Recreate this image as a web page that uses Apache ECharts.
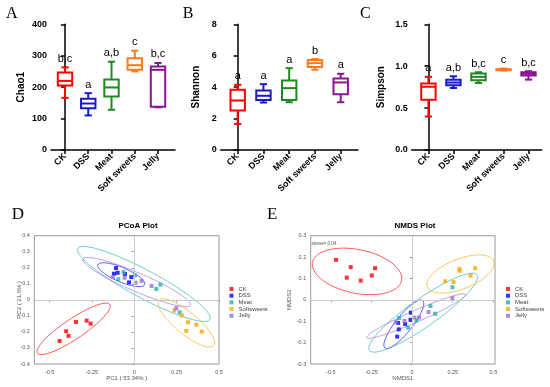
<!DOCTYPE html>
<html>
<head>
<meta charset="utf-8">
<script src="https://cdn.jsdelivr.net/npm/echarts@6/dist/echarts.min.js"></script>
<style>html,body{margin:0;padding:0;background:#fff;}#chart{width:550px;height:387px;}</style>
</head>
<body>
<div id="chart"></div>
<script>
// ---------- data ----------
const categories = ['CK', 'DSS', 'Meat', 'Soft sweets', 'Jelly'];
const groupNames = ['CK', 'DSS', 'Meat', 'Softsweets', 'Jelly'];

// box stats: [min, Q1, median, Q3, max]
const chao1Stats = [[166, 205, 220, 247, 263], [110, 133, 148, 163, 181], [128, 170, 199, 224, 281], [250, 255, 270, 292, 316], [136, 138, 255, 266, 277]];
const shannonStats = [[1.66, 2.51, 3.15, 3.83, 4.15], [3.02, 3.19, 3.45, 3.79, 4.19], [3.04, 3.19, 3.94, 4.43, 5.21], [5.11, 5.28, 5.53, 5.72, 5.79], [3.04, 3.55, 4.30, 4.55, 4.85]];
const simpsonStats = [[0.40, 0.60, 0.755, 0.793, 0.873], [0.74, 0.773, 0.805, 0.837, 0.88], [0.80, 0.833, 0.873, 0.912, 0.928], [0.948, 0.952, 0.96, 0.964, 0.972], [0.84, 0.888, 0.908, 0.928, 0.94]];
const chao1Letters = ['b,c', 'a', 'a,b', 'c', 'b,c'];
const shannonLetters = ['a', 'a', 'a', 'b', 'a'];
const simpsonLetters = ['a', 'a,b', 'b,c', 'c', 'b,c'];

// PCoA points
const pcoaCK = [[-0.441, -0.256], [-0.402, -0.196], [-0.388, -0.225], [-0.344, -0.138], [-0.281, -0.130], [-0.258, -0.148]];
const pcoaDSS = [[-0.108, 0.198], [-0.120, 0.163], [-0.098, 0.169], [-0.055, 0.161], [-0.018, 0.142], [-0.031, 0.109]];
const pcoaMeat = [[-0.063, 0.173], [-0.094, 0.128], [0.004, 0.153], [0.154, 0.095], [0.130, 0.068], [0.268, -0.078]];
const pcoaSoft = [[0.236, -0.066], [0.280, -0.097], [0.317, -0.140], [0.366, -0.155], [0.307, -0.194], [0.398, -0.198]];
const pcoaJelly = [[-0.126, 0.142], [-0.057, 0.138], [0.008, 0.107], [0.043, 0.118], [0.102, 0.087], [0.248, -0.052]];
// ellipses: [centerX, centerY, majorEndX, majorEndY, minorEndX, minorEndY]
const pcoaEllipses = [[-0.358, -0.181, -0.144, -0.029, -0.325, -0.233], [-0.077, 0.157, 0.061, 0.095, -0.060, 0.198], [0.057, 0.099, 0.447, -0.122, 0.096, 0.175], [0.307, -0.144, 0.469, -0.285, 0.349, -0.092], [0.014, 0.111, 0.331, -0.033, 0.036, 0.164]];

// NMDS points
const nmdsCK = [[-0.468, 0.187], [-0.378, 0.153], [-0.402, 0.104], [-0.316, 0.090], [-0.248, 0.114], [-0.228, 0.148]];
const nmdsDSS = [[-0.008, -0.060], [-0.010, -0.093], [-0.043, -0.113], [-0.086, -0.108], [-0.082, -0.138], [-0.092, -0.172]];
const nmdsMeat = [[-0.080, -0.085], [-0.025, -0.130], [0.027, -0.096], [0.113, -0.029], [0.142, -0.065], [0.248, 0.059]];
const nmdsSoft = [[0.203, 0.087], [0.255, 0.083], [0.292, 0.136], [0.292, 0.145], [0.359, 0.114], [0.388, 0.148]];
const nmdsJelly = [[-0.101, -0.105], [-0.047, -0.099], [0.014, -0.083], [0.043, -0.083], [0.101, -0.057], [0.248, 0.008]];
const nmdsEllipses = [[-0.339, 0.133, -0.065, 0.090, -0.312, 0.233], [-0.051, -0.114, 0.065, -0.003, -0.011, -0.138], [0.068, -0.060, 0.399, 0.117, 0.118, -0.113], [0.298, 0.121, 0.502, 0.182, 0.332, 0.056], [0.025, -0.076, 0.329, 0.025, 0.039, -0.101]];

const ordXTicks = [-0.5, -0.25, 0, 0.25, 0.5];
const catTicks = [0, 1, 2, 3, 4];

// ---------- styles ----------
const boxColors = ['#ff0000', '#1a1acc', '#1f8a1f', '#ff7a1a', '#8c1496'];
const groupColors = ['#ff0000', '#0000ff', '#20b2aa', '#ffa500', '#9370db'];
const SANS = 'Liberation Sans, Arial, sans-serif';
const SERIF = 'Liberation Serif, Times New Roman, serif';

function boxRender(letters) {
  return function (params, api) {
    const i = api.value(0);
    const lo = api.coord([i, api.value(1)]);
    const q1 = api.coord([i, api.value(2)]);
    const md = api.coord([i, api.value(3)]);
    const q3 = api.coord([i, api.value(4)]);
    const hi = api.coord([i, api.value(5)]);
    const x = lo[0], hw = 7.2, cw = 3.6;
    const c = boxColors[params.dataIndex];
    const ls = { stroke: c, lineWidth: 2 };
    return {
      type: 'group',
      children: [
        { type: 'line', shape: { x1: x, y1: lo[1], x2: x, y2: q1[1] }, style: ls },
        { type: 'line', shape: { x1: x, y1: q3[1], x2: x, y2: hi[1] }, style: ls },
        { type: 'line', shape: { x1: x - cw, y1: lo[1], x2: x + cw, y2: lo[1] }, style: ls },
        { type: 'line', shape: { x1: x - cw, y1: hi[1], x2: x + cw, y2: hi[1] }, style: ls },
        { type: 'rect', shape: { x: x - hw, y: q3[1], width: 2 * hw, height: q1[1] - q3[1] }, style: { stroke: c, lineWidth: 2, fill: '#fff' } },
        { type: 'line', shape: { x1: x - hw, y1: md[1], x2: x + hw, y2: md[1] }, style: ls },
        { type: 'text', style: { text: letters[params.dataIndex], x: x, y: hi[1] - 3, align: 'center', verticalAlign: 'bottom', fontSize: 11, fontFamily: SANS, fill: '#000' } }
      ]
    };
  };
}

function ellipseRender(params, api) {
  const cx = api.value(0), cy = api.value(1);
  const ux = api.value(2) - cx, uy = api.value(3) - cy;
  const vx = api.value(4) - cx, vy = api.value(5) - cy;
  const pts = [];
  for (let k = 0; k <= 96; k++) {
    const t = k / 96 * 2 * Math.PI;
    pts.push(api.coord([cx + ux * Math.cos(t) + vx * Math.sin(t), cy + uy * Math.cos(t) + vy * Math.sin(t)]));
  }
  return { type: 'polyline', shape: { points: pts }, style: { stroke: groupColors[params.dataIndex], lineWidth: 1, opacity: 0.65, fill: null } };
}

function catXAxis(gi, min, max) {
  return {
    type: 'value', gridIndex: gi, min: min, max: max,
    axisLine: { show: true, lineStyle: { color: '#000', width: 1.5 } },
    axisTick: { show: true, customValues: catTicks, length: 4, lineStyle: { color: '#000', width: 1.5 } },
    axisLabel: { customValues: catTicks, formatter: v => categories[Math.round(v)], rotate: 45, fontSize: 9, fontWeight: 'bold', fontFamily: SANS, color: '#000', margin: 5 },
    splitLine: { show: false }
  };
}
function boxYAxis(gi, name, min, max, interval, gap, fmt) {
  return {
    type: 'value', gridIndex: gi, min: min, max: max, interval: interval,
    name: name, nameLocation: 'middle', nameGap: gap,
    nameTextStyle: { fontSize: 10, fontWeight: 'bold', fontFamily: SANS, color: '#000' },
    axisLine: { show: true, lineStyle: { color: '#000', width: 1.5 } },
    axisTick: { show: true, length: 4, lineStyle: { color: '#000', width: 1.5 } },
    axisLabel: { fontSize: 9, fontWeight: 'bold', fontFamily: SANS, color: '#000', margin: 4, formatter: fmt },
    splitLine: { show: false }
  };
}
function ordXAxis(gi, min, max, name) {
  return {
    type: 'value', gridIndex: gi, min: min, max: max,
    name: name, nameLocation: 'middle', nameGap: 11, nameMoveOverlap: false,
    nameTextStyle: { fontSize: 6, fontFamily: SANS, color: '#555' },
    axisLine: { show: true, lineStyle: { color: '#999', width: 1 } },
    axisTick: { show: true, customValues: ordXTicks, length: 2.5, lineStyle: { color: '#999' } },
    axisLabel: { customValues: ordXTicks, fontSize: 5.5, fontFamily: SANS, color: '#555', margin: 5, formatter: v => String(v) },
    splitLine: { show: false }
  };
}
function ordYAxis(gi, min, max, name, gap) {
  return {
    type: 'value', gridIndex: gi, min: min, max: max, interval: 0.1,
    name: name, nameLocation: 'middle', nameGap: gap, nameMoveOverlap: false,
    nameTextStyle: { fontSize: 6, fontFamily: SANS, color: '#555' },
    axisLine: { show: true, lineStyle: { color: '#999', width: 1 } },
    axisTick: { show: true, length: 2.5, lineStyle: { color: '#999' } },
    axisLabel: { fontSize: 5.5, fontFamily: SANS, color: '#555', margin: 4.5, formatter: v => String(+v.toFixed(1)) },
    splitLine: { show: false }
  };
}

const pcoaPoints = [pcoaCK, pcoaDSS, pcoaMeat, pcoaSoft, pcoaJelly];
const nmdsPoints = [nmdsCK, nmdsDSS, nmdsMeat, nmdsSoft, nmdsJelly];

const series = [
  { type: 'custom', xAxisIndex: 0, yAxisIndex: 0, clip: false, renderItem: boxRender(chao1Letters), encode: { x: 0, y: [1, 2, 3, 4, 5] }, data: chao1Stats.map((s, i) => [i].concat(s)) },
  { type: 'custom', xAxisIndex: 1, yAxisIndex: 1, clip: false, renderItem: boxRender(shannonLetters), encode: { x: 0, y: [1, 2, 3, 4, 5] }, data: shannonStats.map((s, i) => [i].concat(s)) },
  { type: 'custom', xAxisIndex: 2, yAxisIndex: 2, clip: false, renderItem: boxRender(simpsonLetters), encode: { x: 0, y: [1, 2, 3, 4, 5] }, data: simpsonStats.map((s, i) => [i].concat(s)) },
  { type: 'custom', xAxisIndex: 3, yAxisIndex: 3, clip: false, z: 3, renderItem: ellipseRender, encode: { x: 0, y: 1 }, data: pcoaEllipses },
  { type: 'custom', xAxisIndex: 4, yAxisIndex: 4, clip: false, z: 3, renderItem: ellipseRender, encode: { x: 0, y: 1 }, data: nmdsEllipses }
];
const zeroLine = { silent: true, symbol: ['none', 'none'], label: { show: false }, lineStyle: { color: '#cccccc', type: 'solid', width: 1 }, emphasis: { disabled: true }, data: [{ xAxis: 0 }, { yAxis: 0 }] };
[[3, pcoaPoints], [4, nmdsPoints]].forEach(([ax, pts]) => {
  pts.forEach((d, g) => {
    const s = { type: 'scatter', name: groupNames[g], xAxisIndex: ax, yAxisIndex: ax, z: 4, data: d, symbol: 'rect', symbolSize: 4, itemStyle: { color: groupColors[g] } };
    if (g === 0) s.markLine = Object.assign({}, zeroLine);
    series.push(s);
  });
});

function legendAt(left) {
  return {
    data: groupNames, orient: 'vertical', left: left, top: 286, padding: 0, icon: 'rect',
    itemWidth: 4, itemHeight: 4, itemGap: 0.7, selectedMode: false,
    textStyle: { fontSize: 6, lineHeight: 6, fontFamily: SANS, color: '#444' }
  };
}

const option = {
  animation: false,
  backgroundColor: '#fff',
  grid: [
    { left: 51, top: 24.3, width: 124, height: 125.7, outerBoundsMode: 'none' },
    { left: 220.7, top: 24.3, width: 137.3, height: 125.7, outerBoundsMode: 'none' },
    { left: 411.7, top: 24.3, width: 130, height: 125.7, outerBoundsMode: 'none' },
    { left: 34.3, top: 235.7, width: 184.7, height: 128.3, show: true, borderColor: '#999', borderWidth: 1, outerBoundsMode: 'none' },
    { left: 310.7, top: 235.7, width: 184.3, height: 128.3, show: true, borderColor: '#999', borderWidth: 1, outerBoundsMode: 'none' }
  ],
  xAxis: [
    catXAxis(0, -0.602, 4.731),
    catXAxis(1, -0.660, 4.672),
    catXAxis(2, -0.668, 4.527),
    ordXAxis(3, -0.59, 0.5, 'PC1 ( 53.34% )'),
    ordXAxis(4, -0.624, 0.51, 'NMDS1')
  ],
  yAxis: [
    boxYAxis(0, 'Chao1', 0, 400, 100, 25, v => String(v)),
    boxYAxis(1, 'Shannon', 0, 8, 2, 19, v => String(v)),
    boxYAxis(2, 'Simpson', 0, 1.5, 0.5, 25.5, v => v.toFixed(1)),
    ordYAxis(3, -0.4, 0.4, 'PC2 ( 21.6% )', 11.5),
    ordYAxis(4, -0.3, 0.3, 'NMDS2', 18.5)
  ],
  legend: [legendAt(229.5), legendAt(506)],
  graphic: [
    { type: 'text', x: 6, y: 6, style: { text: 'A', font: '16px ' + SERIF, fill: '#000' } },
    { type: 'text', x: 182.7, y: 6, style: { text: 'B', font: '16px ' + SERIF, fill: '#000' } },
    { type: 'text', x: 360, y: 5.5, style: { text: 'C', font: '16px ' + SERIF, fill: '#000' } },
    { type: 'text', x: 11.7, y: 206, style: { text: 'D', font: '17px ' + SERIF, fill: '#000' } },
    { type: 'text', x: 267, y: 206, style: { text: 'E', font: '17px ' + SERIF, fill: '#000' } },
    { type: 'text', x: 138, y: 226, style: { text: 'PCoA Plot', font: 'bold 8px ' + SANS, fill: '#000', align: 'center', verticalAlign: 'middle' } },
    { type: 'text', x: 415, y: 226, style: { text: 'NMDS Plot', font: 'bold 8px ' + SANS, fill: '#000', align: 'center', verticalAlign: 'middle' } },
    { type: 'text', x: 311.5, y: 243.3, style: { text: 'stress= 0.04', font: '4.5px ' + SANS, fill: '#555', verticalAlign: 'middle' } }
  ],
  series: series
};

const chart = echarts.init(document.getElementById('chart'), null, { renderer: 'canvas' });
chart.setOption(option);
</script>
</body>
</html>
